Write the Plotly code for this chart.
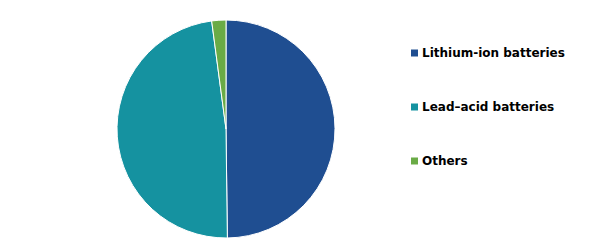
import plotly.graph_objects as go

labels = ["Lithium-ion batteries", "Lead\u2013acid batteries", "Others"]
values = [49.8, 48.1, 2.1]
colors = ["#1F4E91", "#1592A0", "#6AAB46"]

W, H = 610, 248
fig = go.Figure()
fig.add_trace(go.Pie(
    labels=labels, values=values, sort=False, direction="clockwise", rotation=0,
    marker=dict(colors=colors, line=dict(color="white", width=1)),
    textinfo="none", hoverinfo="label+percent", showlegend=False,
    domain=dict(x=[117 / W, 335 / W], y=[10 / H, 228 / H]),
))

# legend drawn as shapes + annotations
leg_x = 411
leg_y0 = 53
leg_step = 54
for i, (lab, col) in enumerate(zip(labels, colors)):
    cy = leg_y0 + i * leg_step
    fig.add_shape(type="rect", xref="paper", yref="paper",
                  x0=leg_x / W, x1=(leg_x + 7) / W,
                  y0=1 - (cy + 3.5) / H, y1=1 - (cy - 3.5) / H,
                  fillcolor=col, line=dict(width=0))
    fig.add_annotation(xref="paper", yref="paper", x=(leg_x + 9) / W, y=1 - cy / H,
                       text="<b>" + lab + "</b>", showarrow=False,
                       xanchor="left", yanchor="middle",
                       font=dict(family="DejaVu Sans", size=12, color="#000000"))

fig.update_layout(width=W, height=H, margin=dict(l=0, r=0, t=0, b=0),
                  paper_bgcolor="white", plot_bgcolor="white")
fig.write_html("out.html")
